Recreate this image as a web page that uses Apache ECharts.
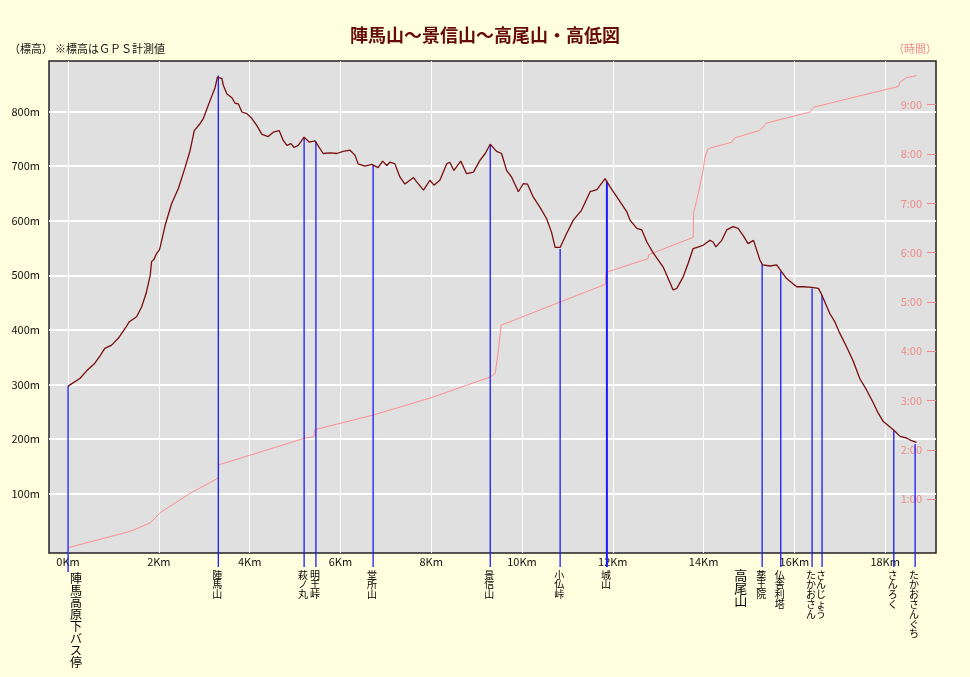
<!DOCTYPE html>
<html><head><meta charset="utf-8">
<script src="https://cdn.jsdelivr.net/npm/echarts@6/dist/echarts.min.js"></script>
<style>html,body{margin:0;padding:0;background:#ffffe0;}#c{width:970px;height:677px;}</style>
</head><body><div id="c"></div>
<script>
// Elevation profile (distance km, elevation m)
const elevKm = [0.00,0.26,0.41,0.59,0.70,0.81,0.96,1.11,1.26,1.35,
1.51,1.62,1.72,1.77,1.81,1.84,1.89,1.95,2.01,2.03,
2.14,2.28,2.43,2.58,2.69,2.78,2.91,2.98,3.06,3.17,
3.24,3.29,3.33,3.39,3.42,3.50,3.61,3.68,3.75,3.83,
3.94,4.05,4.16,4.27,4.41,4.52,4.65,4.74,4.82,4.91,
4.98,5.07,5.20,5.31,5.44,5.62,5.77,5.92,6.06,6.21,
6.32,6.39,6.54,6.69,6.83,6.93,7.02,7.09,7.20,7.31,
7.42,7.61,7.68,7.83,7.97,8.06,8.19,8.34,8.41,8.50,
8.65,8.78,8.93,9.07,9.19,9.30,9.44,9.55,9.66,9.77,
9.92,10.03,10.12,10.25,10.40,10.54,10.65,10.73,10.84,10.98,
11.13,11.31,11.50,11.65,11.83,11.94,12.10,12.31,12.38,12.53,
12.64,12.75,12.89,13.11,13.22,13.33,13.41,13.55,13.66,13.77,
13.92,13.99,14.14,14.21,14.27,14.40,14.51,14.65,14.76,14.87,
14.98,15.10,15.17,15.24,15.30,15.46,15.61,15.72,15.83,16.05,
16.20,16.38,16.53,16.60,16.78,16.89,17.00,17.15,17.30,17.44,
17.59,17.74,17.85,17.96,18.18,18.33,18.47,18.58,18.69];
const elevM = [297,311,325,339,352,366,372,385,403,415,
424,442,467,485,500,525,529,540,546,552,
592,631,659,698,729,765,778,787,805,829,
844,863,866,860,848,832,825,815,814,799,
796,787,774,758,754,762,765,747,738,741,
734,738,753,744,746,723,724,723,727,729,
720,704,700,703,697,709,701,707,704,680,
667,679,671,656,674,665,674,704,707,692,
709,686,689,710,723,740,727,723,692,680,
653,668,667,643,624,604,579,551,551,576,
601,619,653,657,677,662,642,616,601,586,
583,561,541,515,494,473,476,497,522,549,
553,555,564,561,552,564,583,589,586,573,
558,564,546,528,519,517,519,506,494,479,
479,478,476,465,430,415,394,369,342,311,
290,266,247,232,217,205,202,197,194];

// Elapsed time (distance km, hours)
const timeKm = [0.01,1.37,1.81,2.03,2.69,3.31,3.32,3.79,5.22,5.42,5.43,6.73,7.97,9.30,9.41,9.48,9.54,10.84,11.84,11.85,12.78,12.79,13.77,13.78,13.85,13.99,14.03,14.10,14.62,14.69,15.24,15.39,16.34,16.42,18.29,18.33,18.47,18.69];
const timeH = [0.02,0.35,0.52,0.73,1.12,1.43,1.70,1.83,2.24,2.27,2.41,2.71,3.05,3.48,3.55,4.02,4.53,5.00,5.36,5.60,5.88,5.96,6.31,6.81,7.06,7.67,7.94,8.11,8.24,8.33,8.48,8.63,8.85,8.95,9.37,9.46,9.55,9.59];

// Landmarks
const spotNames = ['陣馬高原下バス停','陣馬山','萩ノ丸','明王峠','堂所山','景信山','小仏峠','城山','薬王院','仏舎利塔','たかおさん','さんじょう','さんろく','たかおさんぐち'];
const spotKm = [0.00,3.31,5.20,5.46,6.72,9.30,10.84,11.87,15.29,15.70,16.39,16.61,18.19,18.66];
const spotM  = [297,866,753,745,702,740,548,672,520,507,476,464,215,191];
const peakNames = ['高尾山'];
const peakKm = [14.82];

// Tick labels
const xTicks = [0,2,4,6,8,10,12,14,16,18];
const elevTicks = [100,200,300,400,500,600,700,800];
const timeTicks = [1,2,3,4,5,6,7,8,9];

const X_MIN = -0.42, X_MAX = 19.12;
const E_MIN = -8.6, E_MAX = 892.4;
const T_MIN = -0.09, T_MAX = 9.887;
const FONT = '"Noto Sans CJK JP", "Noto Sans", sans-serif';

const chart = echarts.init(document.getElementById('c'), null, {renderer:'canvas'});

const option = {
  animation: false,
  backgroundColor: '#ffffe0',
  title: {
    text: '陣馬山～景信山～高尾山・高低図',
    left: 'center', top: 21,
    textStyle: {color:'#660a0a', fontSize:18, fontWeight:'bold', fontFamily: FONT}
  },
  graphic: [
    {type:'text', left: 9, top: 43, style:{text:'（標高）', fill:'#111', font:'11px ' + FONT}},
    {type:'text', left: 55, top: 43, style:{text:'※標高はＧＰＳ計測値', fill:'#111', font:'11px ' + FONT}},
    {type:'text', left: 893, top: 43, style:{text:'（時間）', fill:'#f08a8a', font:'11px ' + FONT}}
  ],
  grid: {
    left: 49, right: 34, top: 61, bottom: 124,
    show: true, backgroundColor: '#e0e0e0', borderColor: '#222', borderWidth: 1.5
  },
  xAxis: {
    type: 'value', min: X_MIN, max: X_MAX,
    axisLine: {show:false},
    axisTick: {show:false, customValues: xTicks},
    axisLabel: {customValues: xTicks, formatter: v => v + 'Km', color:'#111', fontSize:11, fontFamily: FONT, margin: 3},
    splitLine: {show:true, lineStyle:{color:'#ffffff', width:1}}
  },
  yAxis: [
    {
      type: 'value', min: E_MIN, max: E_MAX,
      axisLine: {show:false},
      axisTick: {show:false, customValues: elevTicks},
      axisLabel: {customValues: elevTicks, formatter: v => v + 'm', color:'#111', fontSize:11, fontFamily: FONT, margin: 9},
      splitLine: {show:true, lineStyle:{color:'#ffffff', width:2}}
    },
    {
      type: 'value', min: T_MIN, max: T_MAX, position: 'right',
      axisLine: {show:false},
      axisTick: {show:true, inside:true, length:9, customValues: timeTicks, lineStyle:{color:'#f08a8a', width:1}},
      axisLabel: {inside:true, customValues: timeTicks, formatter: v => v + ':00', color:'#f08a8a', fontSize:11, fontFamily: FONT, margin: 14},
      splitLine: {show:false}
    }
  ],
  series: [
    {
      type: 'line', yAxisIndex: 1, symbol: 'none', z: 2,
      data: timeKm.map((k,i) => [k, timeH[i]]),
      lineStyle: {color:'#ff8e8e', width:1}
    },
    {
      type: 'custom', yAxisIndex: 0, z: 3,
      data: spotKm.map((k,i) => [k, spotM[i]]),
      renderItem: function(params, api) {
        const i = params.dataIndex;
        const top = api.coord([api.value(0), api.value(1)]);
        const base = api.coord([api.value(0), E_MIN]);
        const first = i === 0;
        const x = top[0];
        const name = spotNames[i];
        return {type:'group', children:[
          {type:'line', shape:{x1:x, y1:top[1], x2:x, y2:base[1] + (first ? 19 : 14)},
           style:{stroke:'#1a1aff', lineWidth: name === '城山' ? 2 : 1.3}},
          {type:'text', style:{text: name.split('').join('\n'), x: x + (first ? 8 : -1), y: base[1] + (first ? 19 : 17),
            fill:'#000', fontSize: first ? 12 : 10, fontFamily: FONT, lineHeight: first ? 12 : 9.8, align:'center', verticalAlign:'top'}}
        ]};
      }
    },
    {
      type: 'custom', yAxisIndex: 0, z: 3,
      data: peakKm.map(k => [k, 0]),
      renderItem: function(params, api) {
        const base = api.coord([api.value(0), E_MIN]);
        return {type:'text', style:{text: peakNames[params.dataIndex].split('').join('\n'), x: base[0], y: base[1] + 16,
          fill:'#000', fontSize: 13, fontFamily: FONT, lineHeight: 12.5, align:'center', verticalAlign:'top'}};
      }
    },
    {
      type: 'line', yAxisIndex: 0, symbol: 'none', z: 4,
      data: elevKm.map((k,i) => [k, elevM[i]]),
      lineStyle: {color:'#7a0d0d', width:1.3}
    }
  ]
};
chart.setOption(option);
</script>
</body></html>
